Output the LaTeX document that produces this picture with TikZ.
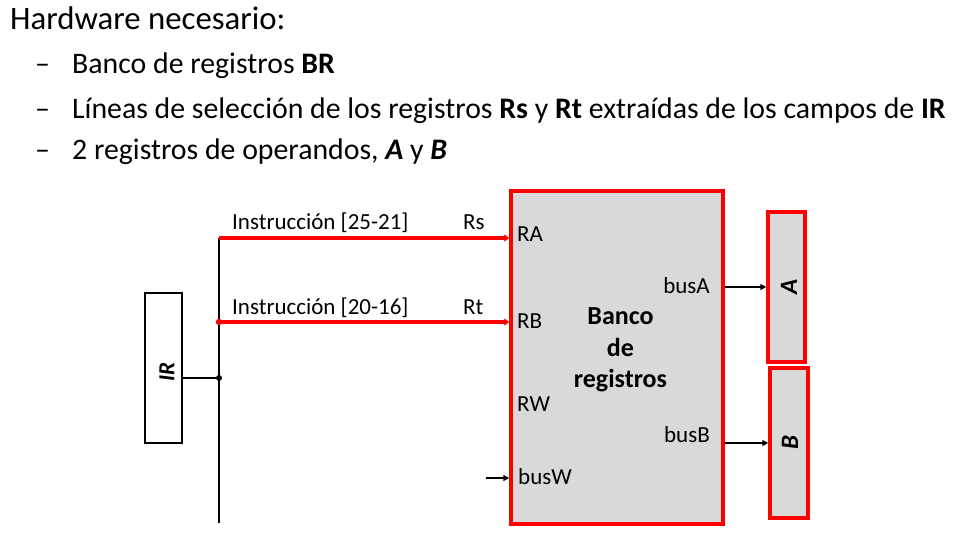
\documentclass[tikz,border=0pt]{standalone}
\usepackage{fontspec}
\setmainfont{Carlito}
\usetikzlibrary{arrows.meta}
\definecolor{regred}{HTML}{FF0000}
\definecolor{regfill}{HTML}{D9D9D9}
\begin{document}
\begin{tikzpicture}[x=1pt,y=-1pt,
  txt/.style={inner sep=0pt,anchor=base west},
  bigtxt/.style={txt,font=\fontsize{32.8}{38}\selectfont},
  bultxt/.style={txt,font=\fontsize{29.8}{35}\selectfont},
  lbl/.style={inner sep=0pt,anchor=base west,font=\fontsize{23}{27}\selectfont},
  lblr/.style={lbl,anchor=base east},
  banktxt/.style={inner sep=0pt,anchor=base,font=\bfseries\fontsize{26}{30}\selectfont},
  regtxt/.style={inner sep=0pt,rotate=90,font=\bfseries\itshape\fontsize{25}{30}\selectfont},
  redbox/.style={draw=regred,line width=3.5pt,fill=regfill,inner sep=0pt},
  irbox/.style={draw=black,line width=1.8pt,fill=white,inner sep=0pt},
  blackwire/.style={draw=black,line width=2pt},
  blackarrow/.style={draw=black,line width=2pt,-{Triangle[length=6pt,width=6pt]}},
  redwire/.style={draw=regred,line width=3.8pt,-{Triangle[length=5pt,width=7pt]}}
]
\useasboundingbox (0,0) rectangle (957,541);

% header text
\node[bigtxt] (title) at (10,29) {Hardware necesario:};
\node[bultxt] (d1) at (35,73) {–};
\node[bultxt] (t1) at (72,73) {Banco de registros \textbf{BR}};
\node[bultxt] (d2) at (35,118) {–};
\node[bultxt] (t2) at (72,118) {Líneas de selección de los registros \textbf{Rs} y \textbf{Rt} extraídas de los campos de \textbf{IR}};
\node[bultxt] (d3) at (35,159) {–};
\node[bultxt] (t3) at (72,159) {2 registros de operandos, \textbf{\textit{A}} y \textbf{\textit{B}}};

% boxes
\node[redbox,minimum width=212pt,minimum height=333pt] (bank) at (617,357.5) {};
\node[redbox,minimum width=37pt,minimum height=150pt] (A) at (786.5,287) {};
\node[redbox,minimum width=38pt,minimum height=150pt] (B) at (789,443) {};
\node[irbox,minimum width=37pt,minimum height=150pt] (IR) at (163.5,368) {};

\node[regtxt] (Alab) at (789,287) {A};
\node[regtxt] (Blab) at (790,442) {B};
\node[regtxt,font=\bfseries\itshape\fontsize{23}{26}\selectfont] (IRlab) at (167,372) {IR};

% bank labels
\node[banktxt] (bk1) at (620.5,324) {Banco};
\node[banktxt] (bk2) at (620.5,356) {de};
\node[banktxt] (bk3) at (620.5,387) {registros};
\node[lbl] (RA) at (517,241) {RA};
\node[lbl] (RB) at (517,328) {RB};
\node[lbl] (RW) at (517,411.5) {RW};
\node[lbl] (busW) at (518,484) {busW};
\node[lblr] (busA) at (710,293) {busA};
\node[lblr] (busB) at (710,442) {busB};

% wire labels
\node[lbl] (i1) at (232,229) {Instrucción [25-21]};
\node[lbl] (rs) at (463,229) {Rs};
\node[lbl] (i2) at (232,314) {Instrucción [20-16]};
\node[lbl] (rt) at (463,314) {Rt};

% wires
\coordinate (top) at (219,238);
\coordinate (j1) at (219,322);
\coordinate (j2) at (219,378);
\coordinate (bot) at (219,523);
\coordinate (wsrc) at (486,478);

\draw[blackwire] (top) -- (bot);
\draw[blackwire] (IR.east |- j2) -- (j2);
\fill (j2) circle (3pt);
\draw[redwire] (top) -- (bank.west |- top);
\draw[redwire] (j1) -- (bank.west |- j1);
\fill[regred] (j1) circle (3.2pt);
\draw[blackarrow] (wsrc) -- (bank.west |- wsrc);
\draw[blackarrow] (bank.east |- A) -- (A.west);
\draw[blackarrow] (bank.east |- B) -- (B.west);
\end{tikzpicture}
\end{document}
